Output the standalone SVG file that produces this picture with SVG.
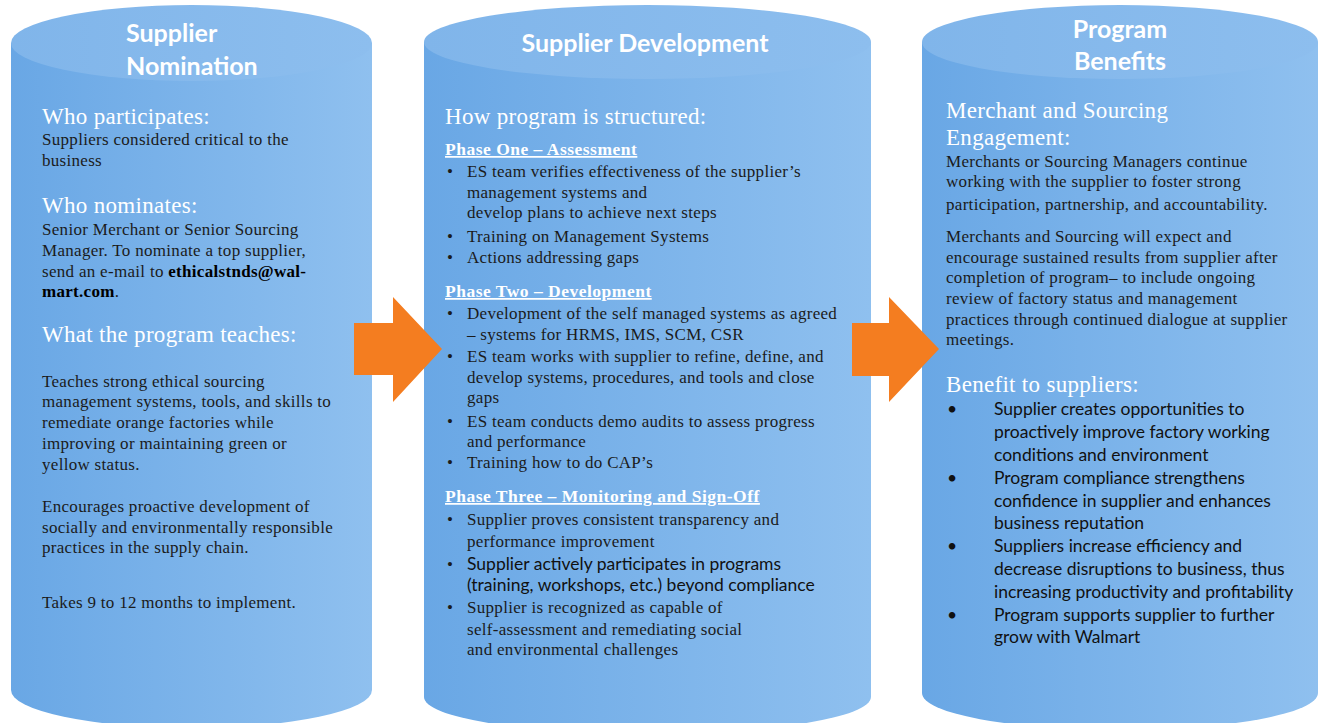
<svg xmlns="http://www.w3.org/2000/svg" width="1321" height="723" viewBox="0 0 1321 723">
<defs>
<linearGradient id="body" x1="0" y1="0" x2="1" y2="0">
<stop offset="0" stop-color="#69a7e5"/>
<stop offset="1" stop-color="#8fc0ef"/>
</linearGradient>
<linearGradient id="top" x1="0" y1="0" x2="1" y2="0">
<stop offset="0" stop-color="#80b5ea"/>
<stop offset="1" stop-color="#8dbeee"/>
</linearGradient>
<style>
.cyl{fill:url(#body)}
.cap{fill:url(#top)}
.title{font-family:Lato,"Liberation Sans",sans-serif;font-weight:bold;font-size:25px;fill:#ffffff}
.h{font-family:"Liberation Serif",serif;font-size:23px;letter-spacing:0.3px;fill:#ffffff}
.ph{font-family:"Liberation Serif",serif;font-size:17.5px;letter-spacing:0.5px;fill:#ffffff;font-weight:bold;text-decoration:underline}
.t{font-family:"Liberation Serif",serif;font-size:17px;letter-spacing:0.3px;fill:#1b1b1b}
.s{font-family:Lato,"Liberation Sans",sans-serif;font-size:17.5px;fill:#111111}
.arrow{fill:#f47d20}
</style>
</defs>

<g id="supplier-nomination">
<path class="cyl" d="M11,43 L11,690 A180.5,38 0 0 0 372,690 L372,43 Z"/>
<ellipse class="cap" cx="191.5" cy="43" rx="180.5" ry="38"/>
<text class="title" x="126" y="42">Supplier</text>
<text class="title" x="126" y="75">Nomination</text>
<text class="h" x="42" y="124">Who participates:</text>
<text class="t" x="42" y="145">Suppliers considered critical to the</text>
<text class="t" x="42" y="166">business</text>
<text class="h" x="42" y="213">Who nominates:</text>
<text class="t" x="42" y="235">Senior Merchant or Senior Sourcing</text>
<text class="t" x="42" y="256">Manager. To nominate a top supplier,</text>
<text class="t" x="42" y="277">send an e-mail to <tspan font-weight="bold" fill="#000">ethicalstnds@wal-</tspan></text>
<text class="t" x="42" y="297"><tspan font-weight="bold" fill="#000">mart.com</tspan>.</text>
<text class="h" x="42" y="342">What the program teaches:</text>
<text class="t" x="42" y="387">Teaches strong ethical sourcing</text>
<text class="t" x="42" y="407">management systems, tools, and skills to</text>
<text class="t" x="42" y="428">remediate orange factories while</text>
<text class="t" x="42" y="449">improving or maintaining green or</text>
<text class="t" x="42" y="470">yellow status.</text>
<text class="t" x="42" y="512">Encourages proactive development of</text>
<text class="t" x="42" y="533">socially and environmentally responsible</text>
<text class="t" x="42" y="553">practices in the supply chain.</text>
<text class="t" x="42" y="608">Takes 9 to 12 months to implement.</text>
</g>

<g id="supplier-development">
<path class="cyl" d="M424,42 L424,697 A223.5,37 0 0 0 871,697 L871,42 Z"/>
<ellipse class="cap" cx="647.5" cy="42" rx="223.5" ry="37"/>
<text class="title" x="645" y="52" text-anchor="middle">Supplier Development</text>
<text class="h" x="445" y="124">How program is structured:</text>
<text class="ph" x="445" y="155">Phase One – Assessment</text>
<text class="t" x="447" y="177">•</text><text class="t" x="467" y="177">ES team verifies effectiveness of the supplier’s</text>
<text class="t" x="467" y="198">management systems and</text>
<text class="t" x="467" y="218">develop plans to achieve next steps</text>
<text class="t" x="447" y="242">•</text><text class="t" x="467" y="242">Training on Management Systems</text>
<text class="t" x="447" y="263">•</text><text class="t" x="467" y="263">Actions addressing gaps</text>
<text class="ph" x="445" y="297">Phase Two – Development</text>
<text class="t" x="447" y="319">•</text><text class="t" x="467" y="319">Development of the self managed systems as agreed</text>
<text class="t" x="467" y="340">– systems for HRMS, IMS, SCM, CSR</text>
<text class="t" x="447" y="362">•</text><text class="t" x="467" y="362">ES team works with supplier to refine, define, and</text>
<text class="t" x="467" y="383">develop systems, procedures, and tools and close</text>
<text class="t" x="467" y="403">gaps</text>
<text class="t" x="447" y="427">•</text><text class="t" x="467" y="427">ES team conducts demo audits to assess progress</text>
<text class="t" x="467" y="447">and performance</text>
<text class="t" x="447" y="468">•</text><text class="t" x="467" y="468">Training how to do CAP’s</text>
<text class="ph" x="445" y="502">Phase Three – Monitoring and Sign-Off</text>
<text class="t" x="447" y="525">•</text><text class="t" x="467" y="525">Supplier proves consistent transparency and</text>
<text class="t" x="467" y="547">performance improvement</text>
<text class="t" x="447" y="570">•</text><text class="s" x="467" y="570">Supplier actively participates in programs</text>
<text class="s" x="467" y="591">(training, workshops, etc.) beyond compliance</text>
<text class="t" x="447" y="613">•</text><text class="t" x="467" y="613">Supplier is recognized as capable of</text>
<text class="t" x="467" y="635">self-assessment and remediating social</text>
<text class="t" x="467" y="655">and environmental challenges</text>
</g>

<g id="program-benefits">
<path class="cyl" d="M922,42 L922,693 A198,37 0 0 0 1318,693 L1318,42 Z"/>
<ellipse class="cap" cx="1120" cy="42" rx="198" ry="37"/>
<text class="title" x="1120" y="38" text-anchor="middle">Program</text>
<text class="title" x="1120" y="70" text-anchor="middle">Benefits</text>
<text class="h" x="946" y="118">Merchant and Sourcing</text>
<text class="h" x="946" y="145">Engagement:</text>
<text class="t" x="946" y="167">Merchants or Sourcing Managers continue</text>
<text class="t" x="946" y="187">working with the supplier to foster strong</text>
<text class="t" x="946" y="210">participation, partnership, and accountability.</text>
<text class="t" x="946" y="242">Merchants and Sourcing will expect and</text>
<text class="t" x="946" y="263">encourage sustained results from supplier after</text>
<text class="t" x="946" y="283">completion of program– to include ongoing</text>
<text class="t" x="946" y="304">review of factory status and management</text>
<text class="t" x="946" y="325">practices through continued dialogue at supplier</text>
<text class="t" x="946" y="345">meetings.</text>
<text class="h" x="946" y="392">Benefit to suppliers:</text>
<text class="s" x="947" y="415">•</text><text class="s" x="994" y="415">Supplier creates opportunities to</text>
<text class="s" x="994" y="438">proactively improve factory working</text>
<text class="s" x="994" y="461">conditions and environment</text>
<text class="s" x="947" y="484">•</text><text class="s" x="994" y="484">Program compliance strengthens</text>
<text class="s" x="994" y="507">confidence in supplier and enhances</text>
<text class="s" x="994" y="529">business reputation</text>
<text class="s" x="947" y="552">•</text><text class="s" x="994" y="552">Suppliers increase efficiency and</text>
<text class="s" x="994" y="575">decrease disruptions to business, thus</text>
<text class="s" x="994" y="598">increasing productivity and profitability</text>
<text class="s" x="947" y="621">•</text><text class="s" x="994" y="621">Program supports supplier to further</text>
<text class="s" x="994" y="643">grow with Walmart</text>
</g>

<g id="connectors">
<polygon class="arrow" points="354,323 393,323 393,297 442,349 393,402 393,375 354,375"/>
<polygon class="arrow" points="852,323 889,323 889,297 939,349 889,402 889,376 852,376"/>
</g>
</svg>
